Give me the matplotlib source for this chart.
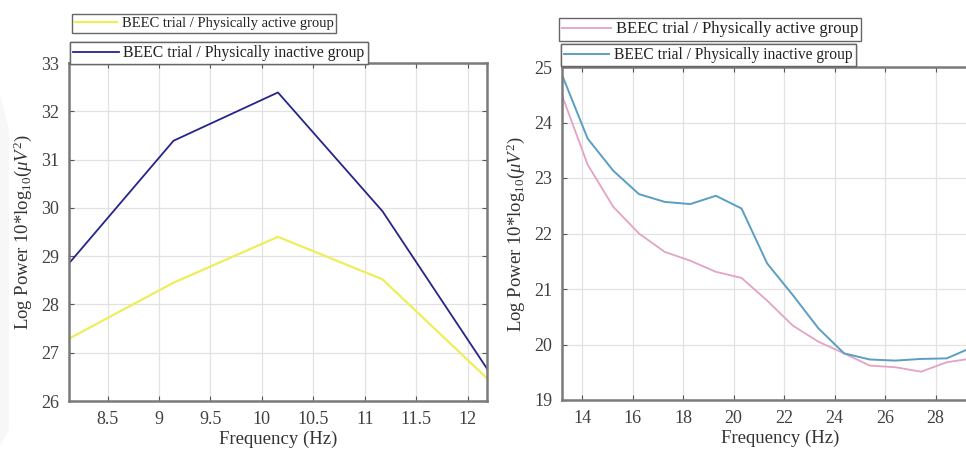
import matplotlib
matplotlib.use("Agg")
import matplotlib.pyplot as plt
from matplotlib.patches import Polygon

plt.rcParams['font.family'] = ['Liberation Serif', 'DejaVu Serif']
plt.rcParams['mathtext.fontset'] = 'custom'
plt.rcParams['mathtext.rm'] = 'Liberation Serif'
plt.rcParams['mathtext.it'] = 'Liberation Serif:italic'

# alpha band (left panel)
alpha_freq = [8.125, 9.141, 10.156, 11.172, 12.188]
alpha_active = [27.29, 28.45, 29.40, 28.52, 26.47]
alpha_inactive = [28.85, 31.39, 32.39, 29.93, 26.67]

# beta band (right panel)
beta_freq = [13.203, 14.219, 15.234, 16.250, 17.266, 18.281, 19.297, 20.313, 21.328,
             22.344, 23.359, 24.375, 25.391, 26.406, 27.422, 28.438, 29.453, 30.469]
beta_active = [24.49, 23.24, 22.48, 22.00, 21.67, 21.51, 21.31, 21.20, 20.79,
               20.34, 20.05, 19.84, 19.62, 19.59, 19.51, 19.68, 19.75, 19.80]
beta_inactive = [24.86, 23.71, 23.13, 22.71, 22.57, 22.53, 22.68, 22.45, 21.46,
                 20.89, 20.29, 19.84, 19.73, 19.71, 19.74, 19.75, 19.95, 20.10]

label_active = 'BEEC trial / Physically active group'
label_inactive = 'BEEC trial / Physically inactive group'
ylabel = r'Log Power 10*log$_{10}$($\mu V^2$)'

W, H = 966, 451
fig = plt.figure(figsize=(W / 100, H / 100), dpi=100)

# faint grey mark along the left edge of the page
fig.patches.append(Polygon([(0, 1 - 95 / H), (9 / W, 1 - 130 / H), (9 / W, 1 - 430 / H),
                            (0, 1 - 445 / H)], closed=True, transform=fig.transFigure,
                           facecolor='#f7f7f7', edgecolor='none', zorder=0))


def px_box(x0, x1, ytop, ybot):
    return [x0 / W, 1 - ybot / H, (x1 - x0) / W, (ybot - ytop) / H]


def style_axes(ax):
    for s in ax.spines.values():
        s.set_color('#7a7a7a')
        s.set_linewidth(1.8)
    ax.grid(True, color='#e2e2e2', linewidth=0.9)
    ax.set_axisbelow(True)
    ax.tick_params(direction='in', length=3.5, width=0.8, color='#555555',
                   top=True, right=True, labelsize=13, pad=7,
                   labelcolor='#404040')
    ax.set_xlabel('Frequency (Hz)', fontsize=13.5, color='#333333', labelpad=2)
    ax.set_ylabel(ylabel, fontsize=13.5, color='#333333', labelpad=5)


def add_legend(ax, line, text, x0, ytop, fs):
    leg = ax.legend([line], [text], loc='upper left',
                    bbox_to_anchor=(x0 / W, 1 - ytop / H),
                    bbox_transform=fig.transFigure,
                    fancybox=False, framealpha=1, edgecolor='#666666',
                    fontsize=fs, handlelength=2.9, handletextpad=0.3,
                    borderpad=0.2, borderaxespad=0)
    leg.get_frame().set_linewidth(1.0)
    for t in leg.get_texts():
        t.set_color('#222222')
    ax.add_artist(leg)


# left panel
ax1 = fig.add_axes(px_box(69, 487, 63, 401))
l1, = ax1.plot(alpha_freq, alpha_active, color='#eeee5a', lw=1.6)
l2, = ax1.plot(alpha_freq, alpha_inactive, color='#25258a', lw=1.3)
ax1.set_xlim(8.125, 12.188)
ax1.set_ylim(26, 33)
ax1.set_xticks([8.5, 9, 9.5, 10, 10.5, 11, 11.5, 12])
ax1.set_xticklabels(['8.5', '9', '9.5', '10', '10.5', '11', '11.5', '12'])
ax1.set_yticks(range(26, 34))
style_axes(ax1)
add_legend(ax1, l1, label_active, 72, 14, 10.5)
add_legend(ax1, l2, label_inactive, 70, 42, 11.3)

# right panel, runs past the right edge of the figure
ax2 = fig.add_axes(px_box(562, 998, 67, 400))
r1, = ax2.plot(beta_freq, beta_active, color='#e4a2c4', lw=1.3)
r2, = ax2.plot(beta_freq, beta_inactive, color='#5a9fc2', lw=1.4)
ax2.set_xlim(13.203, 30.469)
ax2.set_ylim(19, 25)
ax2.set_xticks(range(14, 29, 2))
ax2.set_yticks(range(19, 26))
style_axes(ax2)
add_legend(ax2, r1, label_active, 559, 18, 12)
add_legend(ax2, r2, label_inactive, 561, 44, 11.2)

fig.savefig('out.png', dpi=100)
